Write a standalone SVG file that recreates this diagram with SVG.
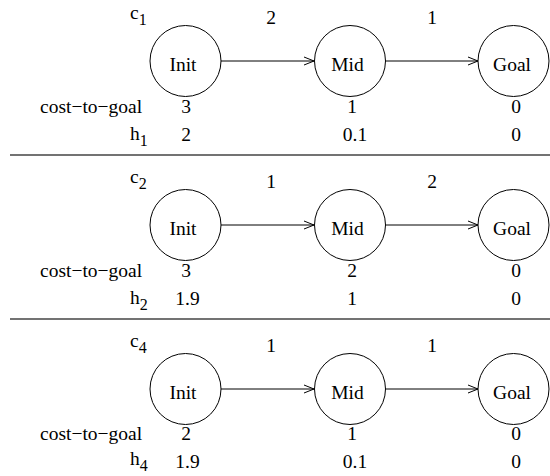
<svg xmlns="http://www.w3.org/2000/svg" width="550" height="476" viewBox="0 0 550 476">
<style>
text{font-family:"Liberation Serif","Times New Roman",serif;font-size:19.5px;fill:#000}
.m{text-anchor:middle}
.sub{font-size:16px}
.node circle{fill:#fff;stroke:#000;stroke-width:1}
.edge{stroke:#000;stroke-width:1;fill:none}
.sep{stroke:#444;stroke-width:1.3}
</style>
<defs>
<marker id="arr" markerUnits="userSpaceOnUse" markerWidth="12" markerHeight="10" refX="10" refY="4.5" orient="auto" overflow="visible">
<path d="M0,0.5 L10,4.5 L0,8.5" fill="none" stroke="#000" stroke-width="1"/>
</marker>
</defs>
<rect width="550" height="476" fill="#fff"/>

<!-- Panel 1 -->
<g id="panel1">
<g id="connectors1">
<line class="edge" x1="221" y1="61" x2="314" y2="61" marker-end="url(#arr)"/>
<line class="edge" x1="385.5" y1="61" x2="478" y2="61" marker-end="url(#arr)"/>
<text class="m" x="271" y="24">2</text>
<text class="m" x="432" y="24">1</text>
</g>
<g id="p1-init" class="node"><circle cx="185.5" cy="61" r="35.5"/><text class="m" x="183" y="71">Init</text></g>
<g id="p1-mid" class="node"><circle cx="350" cy="61" r="35.5"/><text class="m" x="347.5" y="71">Mid</text></g>
<g id="p1-goal" class="node"><circle cx="513.5" cy="61" r="35.5"/><text class="m" x="512" y="71">Goal</text></g>
<text x="130" y="19">c<tspan class="sub" dy="6">1</tspan></text>
<text x="40" y="113">cost−to−goal</text>
<text x="130" y="140">h<tspan class="sub" dy="6">1</tspan></text>
<text class="m" x="186" y="113">3</text>
<text class="m" x="352" y="113">1</text>
<text class="m" x="516" y="113">0</text>
<text class="m" x="186" y="141">2</text>
<text class="m" x="355" y="141">0.1</text>
<text class="m" x="516" y="141">0</text>
</g>
<line class="sep" x1="10" y1="155" x2="550" y2="155"/>

<!-- Panel 2 -->
<g id="panel2" transform="translate(0,164)">
<g id="connectors2">
<line class="edge" x1="221" y1="61" x2="314" y2="61" marker-end="url(#arr)"/>
<line class="edge" x1="385.5" y1="61" x2="478" y2="61" marker-end="url(#arr)"/>
<text class="m" x="271" y="24">1</text>
<text class="m" x="432" y="24">2</text>
</g>
<g id="p2-init" class="node"><circle cx="185.5" cy="61" r="35.5"/><text class="m" x="183" y="71">Init</text></g>
<g id="p2-mid" class="node"><circle cx="350" cy="61" r="35.5"/><text class="m" x="347.5" y="71">Mid</text></g>
<g id="p2-goal" class="node"><circle cx="513.5" cy="61" r="35.5"/><text class="m" x="512" y="71">Goal</text></g>
<text x="130" y="19">c<tspan class="sub" dy="6">2</tspan></text>
<text x="40" y="113">cost−to−goal</text>
<text x="130" y="140">h<tspan class="sub" dy="6">2</tspan></text>
<text class="m" x="186" y="113">3</text>
<text class="m" x="352" y="113">2</text>
<text class="m" x="516" y="113">0</text>
<text class="m" x="187.5" y="141">1.9</text>
<text class="m" x="352" y="141">1</text>
<text class="m" x="516" y="141">0</text>
</g>
<line class="sep" x1="10" y1="319" x2="550" y2="319"/>

<!-- Panel 3 -->
<g id="panel3" transform="translate(0,328)">
<g id="connectors3">
<line class="edge" x1="221" y1="61" x2="314" y2="61" marker-end="url(#arr)"/>
<line class="edge" x1="385.5" y1="61" x2="478" y2="61" marker-end="url(#arr)"/>
<text class="m" x="271" y="24">1</text>
<text class="m" x="432" y="24">1</text>
</g>
<g id="p3-init" class="node"><circle cx="185.5" cy="61" r="35.5"/><text class="m" x="183" y="71">Init</text></g>
<g id="p3-mid" class="node"><circle cx="350" cy="61" r="35.5"/><text class="m" x="347.5" y="71">Mid</text></g>
<g id="p3-goal" class="node"><circle cx="513.5" cy="61" r="35.5"/><text class="m" x="512" y="71">Goal</text></g>
<text x="130" y="19">c<tspan class="sub" dy="6">4</tspan></text>
<text x="40" y="112">cost−to−goal</text>
<text x="130" y="137">h<tspan class="sub" dy="6">4</tspan></text>
<text class="m" x="186" y="112">2</text>
<text class="m" x="352" y="112">1</text>
<text class="m" x="516" y="112">0</text>
<text class="m" x="187.5" y="140">1.9</text>
<text class="m" x="355" y="140">0.1</text>
<text class="m" x="516" y="140">0</text>
</g>
</svg>
